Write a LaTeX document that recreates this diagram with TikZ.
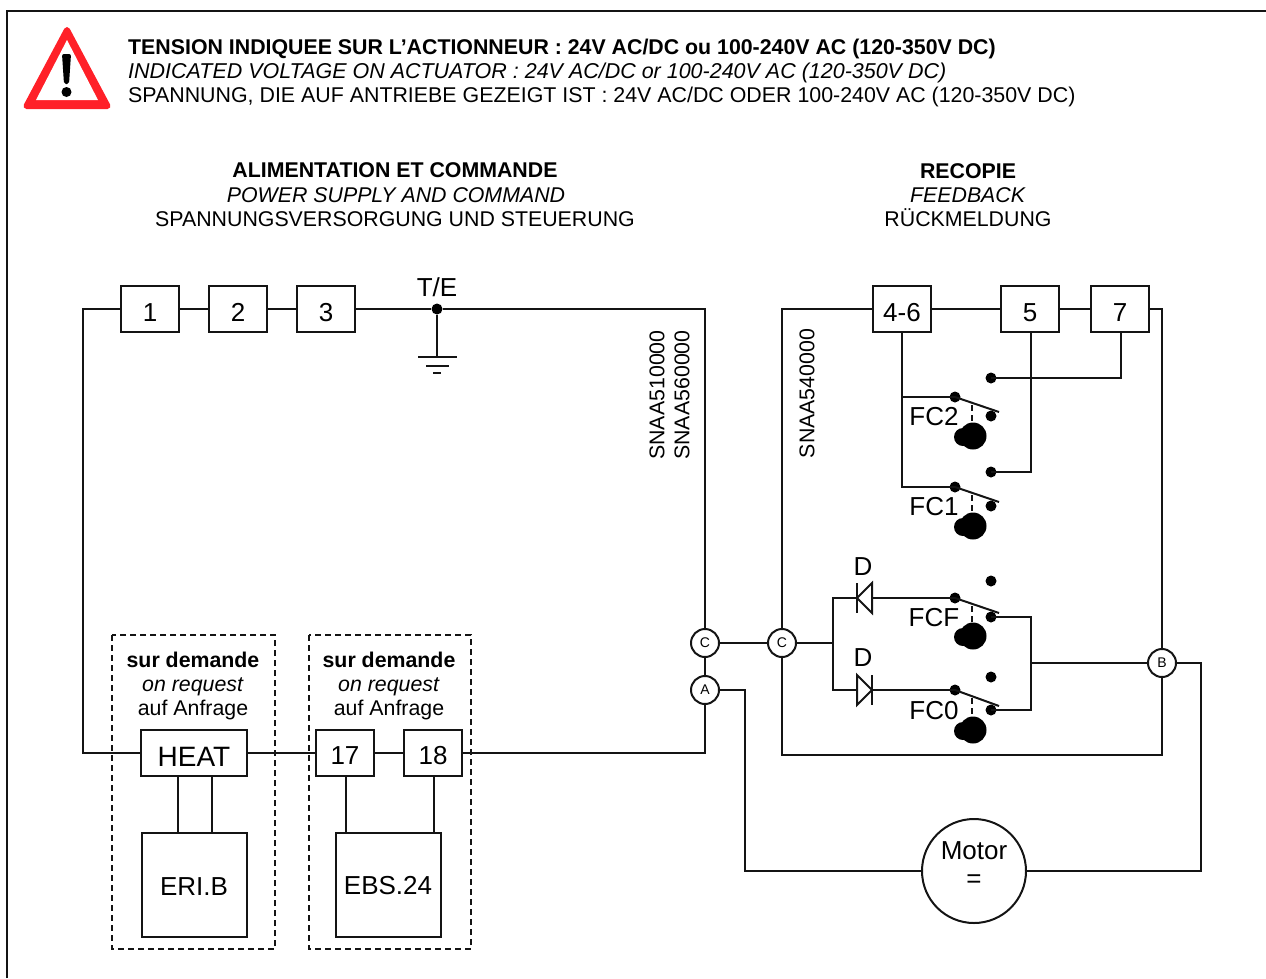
\documentclass[tikz,border=0pt]{standalone}
\usepackage{fontspec}
\setmainfont{Liberation Sans}
\definecolor{warnred}{RGB}{255,32,40}
\definecolor{ink}{gray}{0.08}
\newcommand{\fs}[1]{\fontsize{#1}{#1}\selectfont}
\tikzset{
  wire/.style={line width=2pt,draw=ink,line join=miter},
  termbox/.style={draw=ink,line width=2pt,minimum width=58pt,minimum height=46pt,inner sep=0pt,font=\fs{26},text=black,text height=24pt,text depth=0pt},
  bigbox/.style={draw=ink,line width=2pt,minimum width=105pt,minimum height=104pt,inner sep=0pt,font=\fs{26},text=black,text depth=0pt},
  portc/.style={draw=ink,circle,fill=white,line width=2pt,minimum size=28pt,inner sep=0pt,font=\fs{14},text=black},
  dot/.style={circle,fill=black,minimum size=11pt,inner sep=0pt},
  lab/.style={inner sep=0pt,font=\fs{26},text=black},
  txt/.style={inner sep=0pt,font=\fs{21.33},text=black,anchor=base},
  vtxt/.style={inner sep=0pt,font=\fs{21.33},text=black,rotate=90},
  dashbox/.style={draw=ink,line width=2pt,dash pattern=on 6pt off 4pt},
  camrod/.style={line width=1.6pt,draw=ink,dash pattern=on 6pt off 4pt},
}
\begin{document}
\begin{tikzpicture}[x=1pt,y=-1pt]
\useasboundingbox (0,0) rectangle (1266,978);
% frame
\draw[wire] (7,978) -- (7,11) -- (1266,11);
% warning sign
\path[fill=warnred,draw=warnred,line width=6pt,line join=round] (67,30) -- (26.5,106) -- (107.5,106) -- cycle;
\path[fill=white] (67,40) -- (36,100) -- (98,100) -- cycle;
\path[fill=black,rounded corners=2pt] (62,54) -- (71,54) -- (69,84) -- (64,84) -- cycle;
\fill[black] (66.5,92) circle (5);
% heading texts
\node[txt,anchor=base west] (t1) at (128,54) {\textbf{TENSION INDIQUEE SUR L’ACTIONNEUR : 24V AC/DC ou 100-240V AC (120-350V DC)}};
\node[txt,anchor=base west,font=\fs{21.48}] (t2) at (128,78) {\textit{INDICATED VOLTAGE ON ACTUATOR : 24V AC/DC or 100-240V AC (120-350V DC)}};
\node[txt,anchor=base west,font=\fs{21.37}] (t3) at (128,102) {SPANNUNG, DIE AUF ANTRIEBE GEZEIGT IST : 24V AC/DC ODER 100-240V AC (120-350V DC)};
\node[txt] (a1) at (395,177) {\textbf{ALIMENTATION ET COMMANDE}};
\node[txt] (a2) at (396,202) {\textit{POWER SUPPLY AND COMMAND}};
\node[txt] (a3) at (395,226) {SPANNUNGSVERSORGUNG UND STEUERUNG};
\node[txt] (r1) at (968,178) {\textbf{RECOPIE}};
\node[txt] (r2) at (968,202) {\textit{FEEDBACK}};
\node[txt] (r3) at (968,226) {RÜCKMELDUNG};
% dashed boxes
\draw[dashbox] (112,635) rectangle (275,949);
\draw[dashbox] (309,635) rectangle (471,949);
\node[txt] (s1) at (193,667) {\textbf{sur demande}};
\node[txt] (s2) at (193,691) {\textit{on request}};
\node[txt] (s3) at (193,715) {auf Anfrage};
\node[txt] (q1) at (389,667) {\textbf{sur demande}};
\node[txt] (q2) at (389,691) {\textit{on request}};
\node[txt] (q3) at (389,715) {auf Anfrage};
% coordinates
\coordinate (tl) at (83,309);
\coordinate (bl) at (83,753);
\coordinate (tr) at (705,309);
\coordinate (br) at (705,753);
\coordinate (tl2) at (782,309);
\coordinate (bl2) at (782,755);
\coordinate (tr2) at (1162,309);
\coordinate (br2) at (1162,755);
\coordinate (mr) at (1201,663);
\coordinate (mrb) at (1201,871);
\coordinate (ml) at (745,690);
\coordinate (mlb) at (745,871);
\coordinate (split) at (833,643);
\coordinate (dtop) at (833,598);
\coordinate (dbot) at (833,690);
\coordinate (join) at (1031,663);
\coordinate (jtop) at (1031,617);
\coordinate (jbot) at (1031,710);
\coordinate (g1) at (437,357);
\coordinate (g1a) at (418,357);
\coordinate (g1b) at (457,357);
\coordinate (g2a) at (426,366);
\coordinate (g2b) at (449,366);
\coordinate (g3a) at (433,373);
\coordinate (g3b) at (441,373);
% terminal boxes
\node[termbox] (n1) at (150,309) {1};
\node[termbox] (n2) at (238,309) {2};
\node[termbox] (n3) at (326,309) {3};
\node[termbox] (n46) at (902,309) {4-6};
\node[termbox] (n5) at (1030,309) {5};
\node[termbox] (n7) at (1120,309) {7};
\node[termbox,minimum width=106pt,font=\fs{28},text height=27pt] (heat) at (194,753) {HEAT};
\node[termbox,text height=23pt] (n17) at (345,753) {17};
\node[termbox,text height=23pt] (n18) at (433,753) {18};
\node[bigbox,text height=21pt] (eri) at (194,885) {ERI.B};
\node[bigbox,text height=19.5pt] (ebs) at (388,885) {EBS.24};
\node[dot] (te) at (437,309) {};
\node[lab] (telab) at (437,287.5) {T/E};
\node[vtxt] (v1) at (657,395) {SNAA510000};
\node[vtxt] (v2) at (682,395) {SNAA560000};
\node[vtxt] (v3) at (807,393.5) {SNAA540000};
% ports
\node[portc] (pc1) at (705,643) {C};
\node[portc] (pa) at (705,690) {A};
\node[portc] (pc2) at (782,643) {C};
\node[portc] (pb) at (1162,663) {B};
\node[draw=ink,circle,line width=2pt,minimum size=104pt,inner sep=0pt] (motor) at (974,871) {};
\node[lab] (mot1) at (974,851) {Motor};
\node[lab] (mot2) at (974,881) {=};
% wiring left
\draw[wire] (n1.west) -- (tl) -- (bl) -- (heat.west);
\draw[wire] (n1) -- (n2);
\draw[wire] (n2) -- (n3);
\draw[wire] (n3.east) -- (te) -- (tr) -- (pc1.north);
\draw[wire] (pc1) -- (pa);
\draw[wire] (pa.south) -- (br) -- (n18.east);
\draw[wire] (heat.east) -- (n17.west);
\draw[wire] (n17) -- (n18);
\draw[wire] (te) -- (g1);
\draw[wire] (g1a) -- (g1b);
\draw[wire] (g2a) -- (g2b);
\draw[wire] (g3a) -- (g3b);
\draw[wire] ([xshift=-16pt]heat.south) -- ([xshift=-16pt]heat.south |- eri.north);
\draw[wire] ([xshift=18pt]heat.south) -- ([xshift=18pt]heat.south |- eri.north);
\draw[wire] ([xshift=1pt]n17.south) -- ([xshift=1pt]n17.south |- ebs.north);
\draw[wire] ([xshift=1pt]n18.south) -- ([xshift=1pt]n18.south |- ebs.north);
% wiring right
\draw[wire] (pc1) -- (pc2);
\draw[wire] (pc2.north) -- (tl2) -- (n46.west);
\draw[wire] (n46) -- (n5);
\draw[wire] (n5) -- (n7);
\draw[wire] (n7.east) -- (tr2) -- (pb.north);
\draw[wire] (pb.south) -- (br2) -- (bl2) -- (pc2.south);
\draw[wire] (pb.east) -- (mr) -- (mrb) -- (motor.east);
\draw[wire] (motor.west) -- (mlb) -- (ml) -- (pa.east);
\draw[wire] (join) -- (pb.west);
% contacts
\foreach \nm/\yl/\yt/\yb/\yc in {a/397/378/416/436, b/487/472/506/526, c/598/581/617/636, d/690/677/710/730}{
  \node[dot] (\nm L) at (955,\yl) {};
  \node[dot] (\nm T) at (991,\yt) {};
  \node[dot] (\nm B) at (991,\yb) {};
  \coordinate (\nm E) at (999,\yb-4);
  \draw[wire] (\nm L.center) -- (\nm E);
  \draw[camrod] (972,\yl+8) -- (972,\yc-10);
  \fill[black] (973,\yc) circle (13.5);
  \fill[black] (963,\yc+1) circle (9);
}
\node[lab] (fc2) at (934,416.5) {FC2};
\node[lab] (fc1) at (934,506.5) {FC1};
\node[lab] (fcf) at (934,617.5) {FCF};
\node[lab] (fc0) at (934,710.5) {FC0};
\node[lab] (d1) at (863,566.5) {D};
\node[lab] (d2) at (863,657.5) {D};
\coordinate (k46) at (902,397);
\coordinate (k46b) at (902,487);
\coordinate (k5) at (1031,472);
\coordinate (k7) at (1121,378);
\draw[wire] (n46.south) -- (k46b) -- (bL.center);
\draw[wire] (k46) -- (aL.center);
\draw[wire] (k5 |- n5.south) -- (k5) -- (bT.center);
\draw[wire] (k7 |- n7.south) -- (k7) -- (aT.center);
% diodes
\coordinate (d1c) at (857,598);
\coordinate (d1a) at (872,598);
\coordinate (d2a) at (857,690);
\coordinate (d2c) at (872,690);
\draw[wire] (pc2.east) -- (split);
\draw[wire] (cL.center) -- (d1a);
\draw[wire] (872,583) -- (872,613) -- (d1c) -- cycle;
\draw[wire] (857,583) -- (857,613);
\draw[wire] (d1c) -- (dtop) -- (dbot) -- (d2a);
\draw[wire] (857,675) -- (857,705) -- (d2c) -- cycle;
\draw[wire] (872,675) -- (872,705);
\draw[wire] (d2c) -- (dL.center);
\draw[wire] (cB.center) -- (jtop) -- (jbot) -- (dB.center);
\end{tikzpicture}
\end{document}
